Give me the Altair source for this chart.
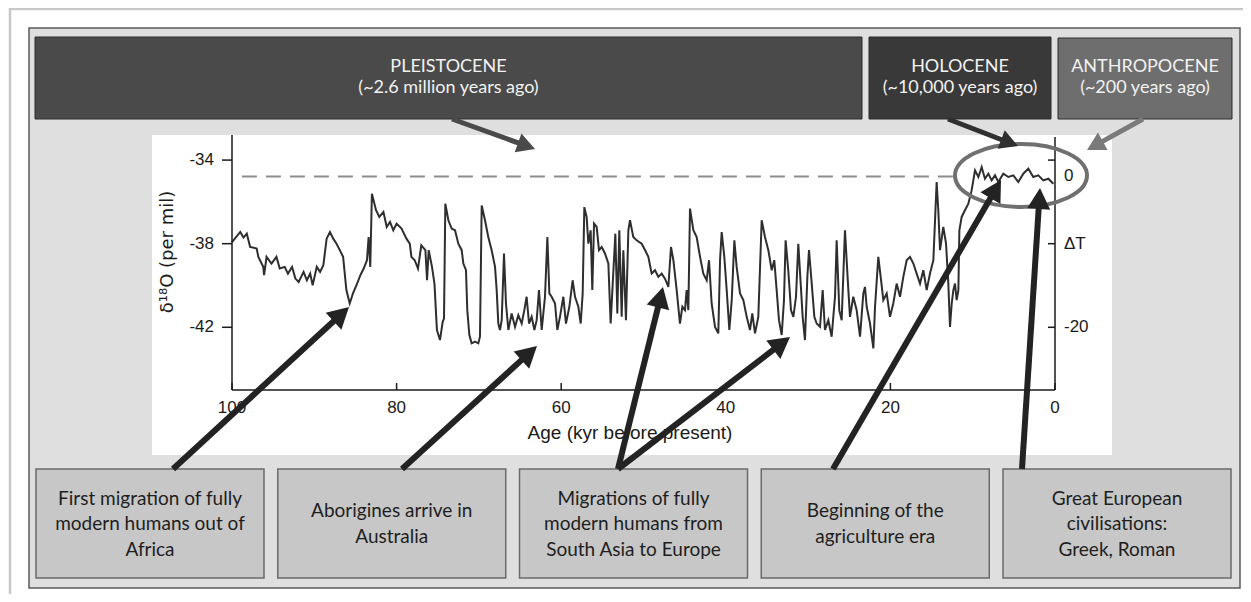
import math
import altair as alt
import pandas as pd

# ---------------- data ----------------
AGE = [100.0, 99.0, 98.6, 98.2, 97.8, 97.0, 96.8, 96.2, 96.1, 95.8, 95.2, 94.6, 94.2, 93.6, 93.2, 92.7,
       92.3, 91.9, 91.3, 90.9, 90.5, 90.2, 89.7, 89.3, 88.9, 88.5, 88.1, 87.7, 87.3, 86.9, 86.5, 86.1,
       85.7, 85.3, 84.8, 84.4, 84.0, 83.6, 83.4, 83.2, 83.0, 82.5, 82.1, 81.6, 81.2, 80.8, 80.4, 80.0,
       79.4, 78.8, 78.4, 78.2, 77.8, 77.4, 77.0, 76.5, 76.3, 76.1, 75.7, 75.4, 75.1,
       74.73, 74.40, 74.24, 74.08, 73.71, 73.31, 72.90, 72.50, 72.09, 71.89, 71.57, 71.41, 71.16, 70.88,
       70.47, 70.07, 69.87, 69.66, 69.26, 68.86, 68.45, 68.04, 67.84, 67.64, 67.44, 67.23, 66.95, 66.71,
       66.42, 66.02, 65.61, 65.21, 64.80, 64.48, 64.20, 63.91, 63.59, 63.26, 62.98, 62.70, 62.37, 61.97,
       61.68, 61.44, 61.16, 60.75, 60.47, 60.15, 59.74, 59.42, 59.01, 58.61, 58.32, 57.92, 57.63, 57.39,
       57.19, 56.91, 56.70, 56.42, 56.22, 56.01, 55.69, 55.41, 55.08, 54.68, 54.27, 53.99, 53.74, 53.42,
       53.18, 52.94, 52.65, 52.45, 52.13, 51.84, 51.64, 51.24, 50.83, 50.22,
       49.82, 49.41, 49.01, 48.60, 48.20, 47.79, 47.39, 46.98, 46.66, 46.37, 45.97, 45.57, 45.28, 44.96,
       44.76, 44.55, 44.35, 43.94, 43.54, 43.13, 42.73, 42.32, 42.04, 41.72, 41.31, 40.91, 40.70, 40.50,
       40.18, 39.89, 39.57, 39.28, 38.96, 38.68, 38.27, 37.87, 37.46, 37.06, 36.78, 36.45, 36.05, 35.64,
       35.24, 34.83, 34.42, 34.11, 33.82, 33.54, 33.21, 32.93, 32.73, 32.41, 32.08, 31.79, 31.47, 31.19,
       30.90, 30.66, 30.38, 30.09, 29.89, 29.56, 29.24, 28.96, 28.55, 28.23, 27.95, 27.54, 27.14, 26.73,
       26.53, 26.21, 25.92, 25.52, 25.11,
       24.91, 24.51, 24.10, 23.69, 23.29, 23.09, 22.88, 22.48, 22.07, 21.87, 21.47, 21.18, 20.86, 20.45,
       20.05, 19.65, 19.24, 18.83, 18.43, 18.02, 17.62, 17.21, 16.81, 16.40, 16.00, 15.59, 15.19, 14.78,
       14.38, 14.18, 13.97, 13.57, 13.24, 12.96, 12.76, 12.55, 12.35, 12.15, 11.95, 11.74, 11.62, 11.34,
       10.94, 10.53, 10.13, 9.72, 9.31, 8.91, 8.51, 8.10, 7.70, 7.29, 6.89, 6.28, 5.67, 5.06, 4.46, 3.85,
       3.24, 2.64, 2.03, 1.42, 0.81, 0.2]
D18O = [-37.92, -37.44, -37.71, -37.52, -38.16, -38.23, -38.63, -39.11, -39.5, -38.63, -38.95, -38.63, -39.19,
        -39.11, -39.43, -39.11, -39.67, -39.83, -39.35, -39.75, -39.43, -39.99, -39.11, -39.35, -39.03, -37.76,
        -37.44, -37.76, -38.0, -38.31, -38.63, -40.22, -40.86, -40.38, -39.91, -39.51, -39.19, -38.79, -37.68,
        -39.11, -35.61, -36.4, -36.72, -36.48, -37.2, -36.96, -37.36, -37.04, -37.28, -37.76, -38.0, -38.63,
        -38.79, -39.19, -38.08, -38.31, -39.75, -38.31, -39.11, -39.91, -42.13,
        -42.61, -41.74, -41.58, -36.09, -36.88, -37.28, -37.36, -38.0, -38.31, -38.95, -39.27, -41.18, -42.37,
        -42.77, -42.69, -42.77, -42.45, -36.17, -36.88, -37.68, -38.31, -39.11, -40.22, -41.82, -42.13, -41.66,
        -38.47, -40.86, -42.13, -41.34, -41.98, -41.42, -41.82, -41.18, -40.54, -41.82, -41.5, -42.13, -41.66,
        -40.22, -42.13, -40.54, -37.68, -40.38, -40.54, -40.86, -42.13, -41.5, -40.54, -41.82, -41.02, -39.75,
        -40.54, -41.02, -41.82, -40.38, -36.25, -36.72, -38.0, -37.36, -40.22, -37.04, -37.2, -38.31, -38.16,
        -38.47, -38.95, -41.82, -39.91, -37.52, -41.34, -37.36, -41.5, -38.31, -41.66, -37.36, -36.88, -37.68,
        -37.84, -38.0,
        -38.3, -38.63, -39.43, -39.27, -39.59, -39.43, -39.67, -40.07, -38.16, -38.79, -40.22, -41.82, -41.02,
        -41.18, -40.22, -41.18, -36.32, -37.36, -37.68, -38.63, -39.43, -39.75, -38.79, -40.86, -41.98, -42.29,
        -38.79, -37.44, -38.63, -40.22, -42.13, -40.7, -37.84, -39.11, -40.38, -40.7, -41.5, -42.13, -41.34,
        -42.29, -41.5, -36.88, -37.68, -38.31, -39.27, -38.79, -40.22, -41.66, -42.37, -40.7, -37.84, -39.27,
        -41.18, -41.5, -40.54, -38.0, -39.91, -41.5, -42.61, -39.59, -38.31, -39.91, -41.5, -41.82, -41.98,
        -40.22, -42.13, -41.66, -42.45, -40.54, -37.84, -41.18, -41.66, -37.36, -40.22,
        -41.5, -40.54, -41.18, -42.45, -40.38, -40.07, -41.02, -41.82, -43.01, -41.02, -38.63, -39.59, -40.7,
        -40.38, -41.5, -40.86, -39.91, -40.54, -39.59, -38.79, -38.63, -38.95, -39.43, -39.91, -39.27, -40.22,
        -39.43, -38.79, -35.05, -36.4, -38.31, -37.2, -38.0, -39.91, -41.98, -40.86, -40.22, -39.91, -40.7,
        -40.22, -37.36, -36.72, -36.4, -36.09, -35.45, -34.49, -34.81, -34.34, -34.89, -34.65, -34.97, -34.73,
        -35.05, -34.65, -34.81, -34.73, -35.05, -34.65, -34.41, -34.81, -34.73, -34.97, -34.89, -35.13]

X_TICKS = [100, 80, 60, 40, 20, 0]
X_LABELS = ["100", "80", "60", "40", "20", "0"]
Y_TICKS = [-34, -38, -42]
Y_LABELS = ["-34", "-38", "-42"]
DT_LEVELS = [-34.78, -38.0, -42.0]
DT_LABELS = ["0", "\u0394T", "-20"]
DASH_LEVEL = -34.78
DASH_FROM = 98.8
DASH_TO = 12.0

EPOCHS = ["PLEISTOCENE", "HOLOCENE", "ANTHROPOCENE"]
EPOCH_AGES = ["(~2.6 million years ago)", "(~10,000 years ago)", "(~200 years ago)"]
EVENTS = [
    "First migration of fully\nmodern humans out of\nAfrica",
    "Aborigines arrive in\nAustralia",
    "Migrations of fully\nmodern humans from\nSouth Asia to Europe",
    "Beginning of the\nagriculture era",
    "Great European\ncivilisations:\nGreek, Roman",
]

# ---------------- layout ----------------
W, H = 823, 255          # plot area
OX, OY = 232, 135        # page position of plot area
TOTAL_W, TOTAL_H = 1235, 586

xs = alt.Scale(domain=[100, 0], nice=False, zero=False)
ys = alt.Scale(domain=[-45, -32.8], nice=False, zero=False)

BOX_FONT = "Lato"
AX_FONT = "Liberation Sans"


def one():
    return pd.DataFrame({"k": [0]})


def rect(x1, y1, x2, y2, fill, stroke=None, sw=0):
    kw = dict(fill=fill)
    if stroke is not None:
        kw.update(stroke=stroke, strokeWidth=sw)
    return alt.Chart(one()).mark_rect(**kw).encode(
        x=alt.value(x1 - OX), x2=alt.value(x2 - OX),
        y=alt.value(y1 - OY), y2=alt.value(y2 - OY))


def text(x, y, s, size, color, font, align="center", angle=0, lh=None):
    kw = dict(align=align, baseline="middle", fontSize=size, font=font, color=color, lineBreak="\n")
    if angle:
        kw["angle"] = angle
    if lh:
        kw["lineHeight"] = lh
        n = s.count("\n") + 1
        y = y - (n - 1) / 2 * lh
    return alt.Chart(one()).mark_text(**kw).encode(
        x=alt.value(x - OX), y=alt.value(y - OY), text=alt.value(s))


HEAD = "M0,0 L-0.55,1 L0.55,1 Z"


def arrow(x0, y0, x1, y1, color, width, hl):
    dx, dy = x1 - x0, y1 - y0
    L = math.hypot(dx, dy)
    ux, uy = dx / L, dy / L
    sx, sy = x1 - ux * hl * 0.7, y1 - uy * hl * 0.7
    shaft = alt.Chart(one()).mark_rule(color=color, strokeWidth=width).encode(
        x=alt.value(x0 - OX), y=alt.value(y0 - OY),
        x2=alt.value(sx - OX), y2=alt.value(sy - OY))
    ang = math.degrees(math.atan2(dx, -dy)) % 360
    head = alt.Chart(one()).mark_point(shape=HEAD, filled=True, color=color, opacity=1,
                                       size=4 * hl * hl, angle=ang, strokeWidth=0).encode(
        x=alt.value(x1 - OX), y=alt.value(y1 - OY))
    return [shaft, head]


layers = []
# outer frame and panel
layers.append(rect(10, 9, 1300, 700, "#ffffff", "#c8c8c8", 2.5))
layers.append(rect(29, 28, 1240, 588, "#dfdfdf", "#5a5a5a", 1.5))

# epoch boxes
EPOCH_BOXES = [(35, 37, 862, 119, "#4a4a4a"), (869, 37, 1051, 119, "#393939"), (1058, 38, 1232, 119, "#6e6e6e")]
for (x1, y1, x2, y2, f), name, ago in zip(EPOCH_BOXES, EPOCHS, EPOCH_AGES):
    layers.append(rect(x1, y1, x2, y2, f, "#2c2c2c", 1))
    layers.append(text((x1 + x2) / 2, 67, name, 18, "#f2f2f2", BOX_FONT))
    layers.append(text((x1 + x2) / 2, 88, ago, 18, "#f2f2f2", BOX_FONT))

# white plot background
layers.append(rect(152, 135, 1112, 455, "#ffffff"))

# event boxes
for i, ev in enumerate(EVENTS):
    x0 = 36 + i * 241.75
    layers.append(rect(x0, 469, x0 + 228, 578, "#c7c7c7", "#6b6b6b", 1.5))
    layers.append(text(x0 + 114, 524, ev, 19, "#1e1e1e", BOX_FONT, lh=25.5))

# dashed reference level
dash_df = pd.DataFrame({"a": [DASH_FROM], "a2": [DASH_TO], "d": [DASH_LEVEL]})
layers.append(alt.Chart(dash_df).mark_rule(color="#8c8c8c", strokeWidth=2, strokeDash=[15, 9]).encode(
    x=alt.X("a:Q", scale=xs, axis=None), x2="a2:Q", y=alt.Y("d:Q", scale=ys, axis=None)))

# data line
df = pd.DataFrame({"age": AGE, "d18o": D18O, "i": range(len(AGE))})
layers.append(alt.Chart(df).mark_line(color="#2e2e2e", strokeWidth=2).encode(
    x=alt.X("age:Q", scale=xs, axis=None),
    y=alt.Y("d18o:Q", scale=ys, axis=None),
    order="i:Q"))

# axes drawn through the scales
AX = "#1a1a1a"
layers.append(alt.Chart(one()).mark_rule(color=AX, strokeWidth=1.5).encode(
    x=alt.value(0), y=alt.value(0), y2=alt.value(H)))
layers.append(alt.Chart(one()).mark_rule(color=AX, strokeWidth=1.5).encode(
    x=alt.value(0), x2=alt.value(W), y=alt.value(H)))
layers.append(alt.Chart(one()).mark_rule(color=AX, strokeWidth=1.5).encode(
    x=alt.value(W), y=alt.value(2), y2=alt.value(H)))

yt = pd.DataFrame({"v": Y_TICKS, "lab": Y_LABELS})
layers.append(alt.Chart(yt).mark_rule(color=AX, strokeWidth=1.5).encode(
    y=alt.Y("v:Q", scale=ys, axis=None), x=alt.value(-10), x2=alt.value(0)))
layers.append(alt.Chart(yt).mark_rule(color=AX, strokeWidth=1.5).encode(
    y=alt.Y("v:Q", scale=ys, axis=None), x=alt.value(W - 7), x2=alt.value(W)))
layers.append(alt.Chart(yt).mark_text(align="right", baseline="middle", fontSize=17, font=AX_FONT,
                                      color=AX).encode(
    y=alt.Y("v:Q", scale=ys, axis=None), x=alt.value(-18), text="lab:N"))

xt = pd.DataFrame({"v": X_TICKS, "lab": X_LABELS})
layers.append(alt.Chart(xt).mark_rule(color=AX, strokeWidth=1.5).encode(
    x=alt.X("v:Q", scale=xs, axis=None), y=alt.value(H - 7), y2=alt.value(H)))
layers.append(alt.Chart(xt).mark_text(align="center", baseline="middle", fontSize=17, font=AX_FONT,
                                      color=AX).encode(
    x=alt.X("v:Q", scale=xs, axis=None), y=alt.value(H + 18), text="lab:N"))

dt = pd.DataFrame({"v": DT_LEVELS, "lab": DT_LABELS})
layers.append(alt.Chart(dt).mark_text(align="left", baseline="middle", fontSize=17, font=AX_FONT,
                                      color=AX).encode(
    y=alt.Y("v:Q", scale=ys, axis=None), x=alt.value(W + 9), text="lab:N"))

layers.append(text(168, 252, "\u03b4\u00b9\u2078O (per mil)", 18, AX, "DejaVu Sans", angle=270))
layers.append(text(630, 433, "Age (kyr before present)", 19, AX, AX_FONT))

# ellipse around the Holocene
ELLIPSE = "M-1,0 A1,0.477 0 1,1 1,0 A1,0.477 0 1,1 -1,0 Z"
layers.append(alt.Chart(one()).mark_point(shape=ELLIPSE, filled=False, color="#707070", opacity=1,
                                          strokeWidth=4, size=132 * 132).encode(
    x=alt.value(1021 - OX), y=alt.value(175.5 - OY)))

# arrows
ARROWS = [
    (452, 119, 535, 149, "#4a4a4a", 5, 18),
    (948, 119, 1018, 146, "#303030", 5, 18),
    (1143, 119, 1087, 150, "#7a7a7a", 5, 18),
    (173, 469, 349, 307, "#232323", 6, 21),
    (402, 469, 537, 346, "#232323", 6, 21),
    (618, 469, 663, 287, "#232323", 6, 21),
    (618, 469, 790, 337, "#232323", 6, 21),
    (833, 469, 1001, 180, "#232323", 6, 21),
    (1022, 469, 1040, 188, "#232323", 6, 21),
]
for a in ARROWS:
    layers.extend(arrow(*a))

chart = alt.layer(*layers).properties(
    width=W, height=H,
    padding={"left": OX - 8, "top": OY - 8, "right": TOTAL_W - (OX - 8) - W, "bottom": TOTAL_H - (OY - 8) - H},
    autosize=alt.AutoSizeParams(type="none"),
).configure_view(stroke=None)

chart.save("out.html", embed_options={"renderer": "svg", "actions": False})
